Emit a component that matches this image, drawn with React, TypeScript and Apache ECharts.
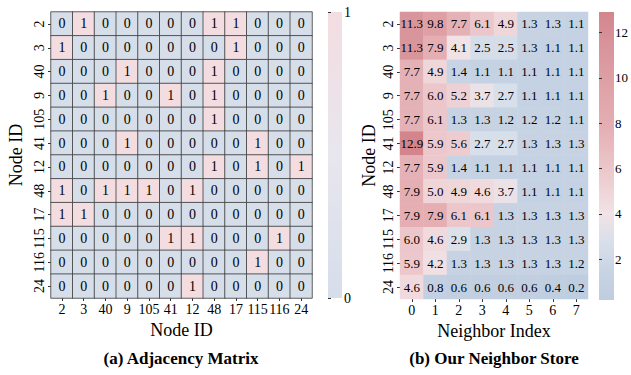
import React, { useEffect, useRef } from "react";
import * as echarts from "echarts";

const nodeIds = ["2", "3", "40", "9", "105", "41", "12", "48", "17", "115", "116", "24"];
const neighborIndex = ["0", "1", "2", "3", "4", "5", "6", "7"];

const adjacency: number[][] = [
  [0, 1, 0, 0, 0, 0, 0, 1, 1, 0, 0, 0],
  [1, 0, 0, 0, 0, 0, 0, 0, 1, 0, 0, 0],
  [0, 0, 0, 1, 0, 0, 0, 1, 0, 0, 0, 0],
  [0, 0, 1, 0, 0, 1, 0, 1, 0, 0, 0, 0],
  [0, 0, 0, 0, 0, 0, 0, 1, 0, 0, 0, 0],
  [0, 0, 0, 1, 0, 0, 0, 0, 0, 1, 0, 0],
  [0, 0, 0, 0, 0, 0, 0, 1, 0, 1, 0, 1],
  [1, 0, 1, 1, 1, 0, 1, 0, 0, 0, 0, 0],
  [1, 1, 0, 0, 0, 0, 0, 0, 0, 0, 0, 0],
  [0, 0, 0, 0, 0, 1, 1, 0, 0, 0, 1, 0],
  [0, 0, 0, 0, 0, 0, 0, 0, 0, 1, 0, 0],
  [0, 0, 0, 0, 0, 0, 1, 0, 0, 0, 0, 0],
];

const neighborStore: number[][] = [
  [11.3, 9.8, 7.7, 6.1, 4.9, 1.3, 1.3, 1.1],
  [11.3, 7.9, 4.1, 2.5, 2.5, 1.3, 1.1, 1.1],
  [7.7, 4.9, 1.4, 1.1, 1.1, 1.1, 1.1, 1.1],
  [7.7, 6.0, 5.2, 3.7, 2.7, 1.1, 1.1, 1.1],
  [7.7, 6.1, 1.3, 1.3, 1.2, 1.2, 1.2, 1.1],
  [12.9, 5.9, 5.6, 2.7, 2.7, 1.3, 1.3, 1.3],
  [7.7, 5.9, 1.4, 1.1, 1.1, 1.1, 1.1, 1.1],
  [7.9, 5.0, 4.9, 4.6, 3.7, 1.1, 1.1, 1.1],
  [7.9, 7.9, 6.1, 6.1, 1.3, 1.3, 1.3, 1.3],
  [6.0, 4.6, 2.9, 1.3, 1.3, 1.3, 1.3, 1.3],
  [5.9, 4.2, 1.3, 1.3, 1.3, 1.3, 1.3, 1.2],
  [4.6, 0.8, 0.6, 0.6, 0.6, 0.6, 0.4, 0.2],
];

const storeTicks = [2, 4, 6, 8, 10, 12];

const FONT = "Liberation Serif";
const leftColors = ["#d6deea", "#e8e6ee", "#f3dde1"];
const rightColors = [
  "#bfcde0", "#c8d4e4", "#d8dfea", "#f1e3e6", "#eed0d4", "#e9c0c4",
  "#e4afb4", "#e0a6ab", "#dc9ca1", "#d8929a", "#d4858c",
];

function gradient(colors: string[]) {
  const n = colors.length;
  return new echarts.graphic.LinearGradient(
    0, 0, 0, 1,
    colors.map((c, i) => ({ offset: i / (n - 1), color: colors[n - 1 - i] }))
  );
}

export default function App() {
  const ref = useRef<HTMLDivElement>(null);
  useEffect(() => {
    if (!ref.current) return;
    const chart = echarts.init(ref.current, undefined, { renderer: "svg" });

    const adjData: number[][] = [];
    adjacency.forEach((row, r) => row.forEach((v, c) => adjData.push([c, r, v])));
    const storeData: number[][] = [];
    neighborStore.forEach((row, r) => row.forEach((v, c) => storeData.push([c, r, v])));
    const storeMin = Math.min(...neighborStore.flat());
    const storeMax = Math.max(...neighborStore.flat());

    const catX = (gridIndex: number, data: string[], name: string, gap: number) => ({
      type: "category",
      gridIndex,
      data,
      name,
      nameLocation: "middle",
      nameGap: gap,
      nameTextStyle: { fontFamily: FONT, fontSize: 18, color: "#000" },
      axisLine: { show: false },
      axisTick: { show: true, alignWithLabel: true, length: 3, lineStyle: { color: "#333" } },
      axisLabel: { fontFamily: FONT, fontSize: 14, color: "#000", margin: 4, interval: 0 },
      splitLine: { show: false },
    });
    const catY = (gridIndex: number, gap: number) => ({
      type: "category",
      gridIndex,
      data: nodeIds,
      inverse: true,
      name: "Node ID",
      nameLocation: "middle",
      nameGap: gap,
      nameTextStyle: { fontFamily: FONT, fontSize: 18, color: "#000" },
      axisLine: { show: false },
      axisTick: { show: true, alignWithLabel: true, length: 3, lineStyle: { color: "#333" } },
      axisLabel: { fontFamily: FONT, fontSize: 14, color: "#000", rotate: 90, margin: 5, interval: 0 },
      splitLine: { show: false },
    });

    chart.setOption({
      animation: false,
      textStyle: { fontFamily: FONT },
      grid: [
        { left: 51, top: 12, width: 261, height: 286 },
        { left: 400, top: 12, width: 188, height: 287 },
        { left: 328, top: 12, width: 14, height: 286 },
        { left: 599, top: 12, width: 15, height: 288 },
      ],
      xAxis: [
        catX(0, nodeIds, "Node ID", 22),
        catX(1, neighborIndex, "Neighbor Index", 22),
        { type: "value", gridIndex: 2, show: false },
        { type: "value", gridIndex: 3, show: false },
      ],
      yAxis: [
        catY(0, 26),
        catY(1, 22),
        {
          type: "value", gridIndex: 2, position: "right", min: 0, max: 1, interval: 1,
          axisLine: { show: false },
          axisTick: { show: true, length: 3, lineStyle: { color: "#333" } },
          axisLabel: { fontFamily: FONT, fontSize: 14, color: "#000", margin: 2 },
          splitLine: { show: false },
        },
        {
          type: "value", gridIndex: 3, position: "right", min: storeMin, max: storeMax,
          axisLine: { show: false },
          axisTick: { show: true, length: 3, lineStyle: { color: "#333" }, customValues: storeTicks },
          axisLabel: { fontFamily: FONT, fontSize: 13, color: "#000", margin: 2, customValues: storeTicks },
          splitLine: { show: false },
        },
      ],
      visualMap: [
        { type: "continuous", show: false, seriesIndex: 0, min: 0, max: 1, inRange: { color: leftColors } },
        { type: "continuous", show: false, seriesIndex: 1, min: storeMin, max: storeMax, inRange: { color: rightColors } },
      ],
      series: [
        {
          type: "heatmap", xAxisIndex: 0, yAxisIndex: 0, data: adjData,
          label: { show: true, fontFamily: FONT, fontSize: 14, color: "#000" },
          itemStyle: { borderColor: "#3a3a3a", borderWidth: 0.8 },
          emphasis: { disabled: true },
        },
        {
          type: "heatmap", xAxisIndex: 1, yAxisIndex: 1, data: storeData,
          label: {
            show: true, fontFamily: FONT, fontSize: 13, color: "#000",
            formatter: (p: any) => Number(p.value[2]).toFixed(1),
          },
          emphasis: { disabled: true },
        },
      ],
      graphic: [
        { type: "rect", left: 328, top: 12, shape: { width: 14, height: 286 }, style: { fill: gradient(leftColors) }, z: -1 },
        { type: "rect", left: 599, top: 12, shape: { width: 15, height: 288 }, style: { fill: gradient(rightColors) }, z: -1 },
        {
          type: "text", x: 181, y: 358,
          style: { text: "(a) Adjacency Matrix", font: `bold 17px "${FONT}"`, fill: "#000", textAlign: "center", textVerticalAlign: "middle" },
        },
        {
          type: "text", x: 494, y: 358,
          style: { text: "(b) Our Neighbor Store", font: `bold 17px "${FONT}"`, fill: "#000", textAlign: "center", textVerticalAlign: "middle" },
        },
      ],
    });
    return () => chart.dispose();
  }, []);
  return <div ref={ref} style={{ width: 631, height: 375, position: "absolute", left: 0, top: 0 }} />;
}
